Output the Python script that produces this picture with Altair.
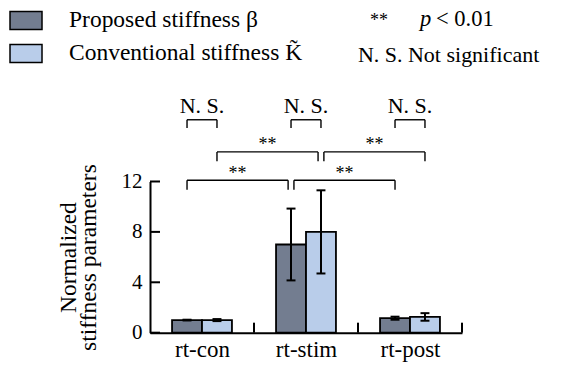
import altair as alt
import pandas as pd

# ---------------- data ----------------
categories = ["rt-con", "rt-stim", "rt-post"]
series = ["Proposed stiffness β", "Conventional stiffness K̃"]
beta_values = [1.0, 7.0, 1.15]
beta_errors = [0.03, 2.85, 0.12]
k_values = [1.0, 8.0, 1.25]
k_errors = [0.08, 3.3, 0.3]
y_ticks = [0, 4, 8, 12]

# significance brackets: (cat_a, series_a, cat_b, series_b, level, label)
brackets = [
    (0, 0, 0, 1, 16.9, "N. S."),
    (1, 0, 1, 1, 16.9, "N. S."),
    (2, 0, 2, 1, 16.9, "N. S."),
    (0, 1, 1, 1, 14.35, "**"),
    (1, 1, 2, 1, 14.35, "**"),
    (0, 0, 1, 0, 12.1, "**"),
    (1, 0, 2, 0, 12.1, "**"),
]

# ---------------- layout constants ----------------
W, H = 312, 151.2
BAR = 0.288          # bar width in x units (one category = 1 unit)
CAP = 0.043          # half width of error caps
GAP = 0.028          # shift so that touching brackets do not overlap
DARK, LIGHT = "#737d90", "#b9cdea"
FONT = "Liberation Serif, 'Times New Roman', Times, serif"

rows = []
for i, c in enumerate(categories):
    for s, vals, errs in ((0, beta_values, beta_errors), (1, k_values, k_errors)):
        x0 = i + 0.5 - BAR if s == 0 else i + 0.5
        cx = x0 + BAR / 2
        rows.append(dict(cat=c, series=series[s], x0=x0, x1=x0 + BAR, cx=cx,
                         cl=cx - CAP, cr=cx + CAP, v=vals[i], z=0.0,
                         lo=vals[i] - errs[i], hi=vals[i] + errs[i]))
bars = pd.DataFrame(rows)

def center(ci, si):
    return ci + 0.5 - BAR / 2 if si == 0 else ci + 0.5 + BAR / 2

seg, lab = [], []
for ca, sa, cb, sb, lvl, txt in brackets:
    xa, xb = center(ca, sa), center(cb, sb)
    if txt == "**":
        if ca == 1:
            xa += GAP
        if cb == 1:
            xb -= GAP
    leg = 0.65 if txt != "**" else 0.75
    seg += [dict(x=xa, x2=xb, y=lvl, y2=lvl),
            dict(x=xa, x2=xa, y=lvl, y2=lvl - leg),
            dict(x=xb, x2=xb, y=lvl, y2=lvl - leg)]
    lab.append(dict(x=(xa + xb) / 2, y=lvl + (0.5 if txt != "**" else 0.12), t=txt,
                    s=22 if txt != "**" else 18))
seg = pd.DataFrame(seg)
lab = pd.DataFrame(lab)

xscale = alt.Scale(domain=[0, 3], nice=False, zero=False)
yscale = alt.Scale(domain=[0, 12], nice=False)

label_expr = "['rt-con','rt-stim','rt-post'][floor(datum.value)]"

base = alt.Chart(bars)

bar_layer = base.mark_rect(stroke="black", strokeWidth=1.8).encode(
    x=alt.X("x0:Q", scale=xscale,
            axis=alt.Axis(values=[0.5, 1.5, 2.5], labelExpr=label_expr, ticks=False,
                          grid=False, title=None, labelFontSize=23, labelPadding=6,
                          domainColor="black", domainWidth=2, labelColor="black",
                          labelFont=FONT)),
    x2="x1:Q",
    y=alt.Y("v:Q", scale=yscale,
            axis=alt.Axis(values=y_ticks, ticks=False, tickSize=0, grid=False,
                          title=["Normalized", "stiffness parameters"],
                          titleFontSize=23.5, titleFont=FONT, titleFontWeight="normal",
                          titleLineHeight=19.5, titlePadding=21, titleColor="black",
                          labelFontSize=21, labelPadding=8, labelFont=FONT,
                          labelColor="black", domainColor="black", domainWidth=2)),
    y2="z:Q",
    color=alt.Color("series:N", scale=alt.Scale(domain=series, range=[DARK, LIGHT]),
                    legend=alt.Legend(title=None, orient="none", legendX=-141, legendY=-178,
                                      symbolType="M-1,-0.5625H1V0.5625H-1Z",
                                      symbolSize=1024, symbolStrokeColor="black",
                                      symbolStrokeWidth=1.5, symbolOpacity=1,
                                      labelFontSize=23.5, labelFont=FONT, labelColor="black",
                                      labelOffset=26, rowPadding=4, padding=0,
                                      labelLimit=400)),
)

err = base.mark_rule(color="black", strokeWidth=2).encode(
    x="cx:Q", y="lo:Q", y2="hi:Q")
cap_hi = base.mark_rule(color="black", strokeWidth=2).encode(
    x="cl:Q", x2="cr:Q", y="hi:Q")
cap_lo = base.mark_rule(color="black", strokeWidth=2).encode(
    x="cl:Q", x2="cr:Q", y="lo:Q")

ytick_df = pd.DataFrame({"v": y_ticks})
yticks = alt.Chart(ytick_df).mark_rule(color="black", strokeWidth=2).encode(
    y="v:Q", x=alt.value(0), x2=alt.value(10))
xtick_df = pd.DataFrame({"v": [1, 2, 3]})
xticks = alt.Chart(xtick_df).mark_rule(color="black", strokeWidth=2).encode(
    x="v:Q", y=alt.value(H), y2=alt.value(H - 10))

br = alt.Chart(seg).mark_rule(color="black", strokeWidth=1.4).encode(
    x="x:Q", x2="x2:Q", y="y:Q", y2="y2:Q")
br_txt = alt.Chart(lab).mark_text(font=FONT, color="black", baseline="alphabetic").encode(
    x="x:Q", y="y:Q", text="t:N", size=alt.Size("s:Q", scale=None, legend=None))

# key for the significance symbols (top right)
key_txt = ["**", "p", "< 0.01", "N. S.", "Not significant"]
key_x = [220, 270, 286, 208, 258]
key_y = [-155.5, -155, -155, -119.5, -119.5]
key_size = [18, 22.5, 22.5, 22, 22]
key_style = ["normal", "italic", "normal", "normal", "normal"]
key_layers = []
for t, kx, ky, ks, st in zip(key_txt, key_x, key_y, key_size, key_style):
    key_layers.append(
        alt.Chart(pd.DataFrame({"t": [t]})).mark_text(
            font=FONT, fontSize=ks, fontStyle=st, color="black", align="left",
            baseline="alphabetic").encode(text="t:N", x=alt.value(kx), y=alt.value(ky)))

chart = alt.layer(bar_layer, err, cap_hi, cap_lo, yticks, xticks, br, br_txt,
                  *key_layers).properties(
    width=W, height=H,
    autosize=alt.AutoSizeParams(type="none"),
    padding={"left": 142, "top": 173.5, "right": 92, "bottom": 33},
).configure(font=FONT).configure_view(stroke=None)

chart.save("out.html", embed_options={"renderer": "svg", "actions": False})
